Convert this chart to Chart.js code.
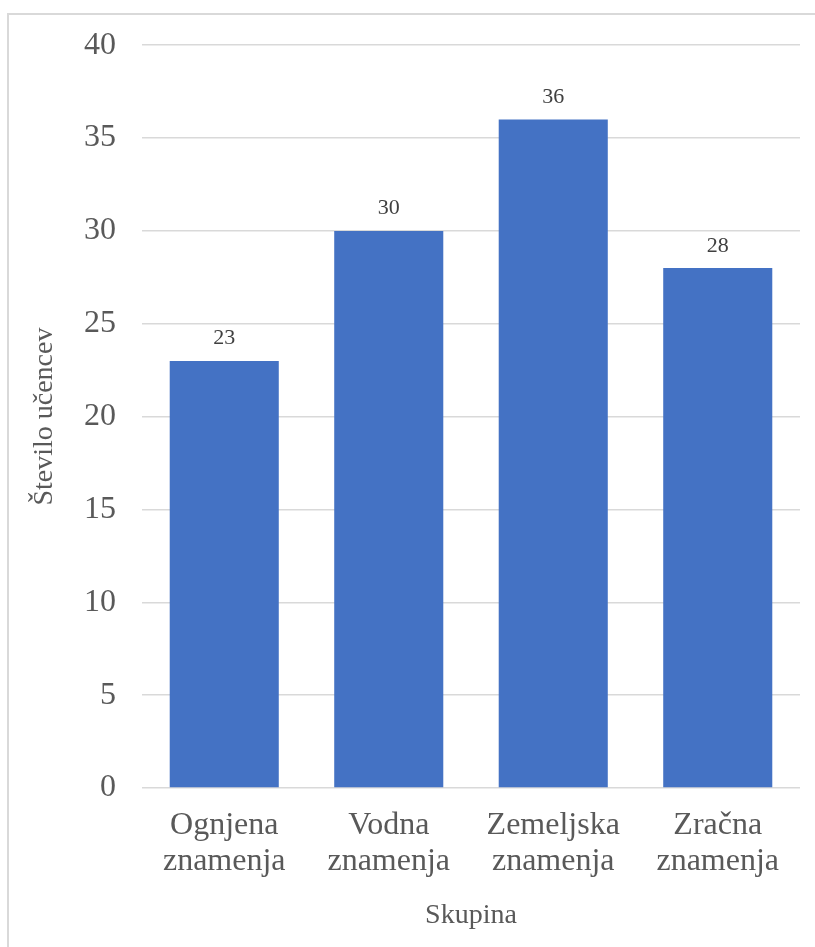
<!DOCTYPE html>
<html>
<head>
<meta charset="utf-8">
<script src="https://cdn.jsdelivr.net/npm/chart.js@4"></script>
<style>
  html, body { margin: 0; padding: 0; background: #fff; overflow: hidden; }
  #wrap { position: relative; width: 815px; height: 947px; }
  #frame { position: absolute; left: 7px; top: 13px; width: 900px; height: 1000px; border: 2px solid #d9d9d9; box-sizing: border-box; }
  canvas { position: absolute; left: 0; top: 0; }
</style>
</head>
<body>
<div id="wrap">
  <div id="frame"></div>
  <canvas id="c" width="815" height="947"></canvas>
</div>
<script>
const categories = [["Ognjena", "znamenja"], ["Vodna", "znamenja"], ["Zemeljska", "znamenja"], ["Zračna", "znamenja"]];
const values = [23, 30, 36, 28];
const yTicks = [0, 5, 10, 15, 20, 25, 30, 35, 40];
const xTitle = "Skupina";
const yTitle = "Število učencev";

const FONT = '"Liberation Serif", "Times New Roman", serif';
const TEXT = '#595959';

const dataLabels = {
  id: 'dataLabels',
  afterDatasetsDraw(chart) {
    const ctx = chart.ctx;
    const meta = chart.getDatasetMeta(0);
    ctx.save();
    ctx.font = '22px ' + FONT;
    ctx.fillStyle = '#404040';
    ctx.textAlign = 'center';
    ctx.textBaseline = 'alphabetic';
    meta.data.forEach((bar, i) => {
      ctx.fillText(String(values[i]), bar.x, bar.y - 16.5);
    });
    ctx.restore();
  }
};

new Chart(document.getElementById('c'), {
  type: 'bar',
  data: {
    labels: categories,
    datasets: [{
      data: values,
      backgroundColor: '#4472c4',
      borderWidth: 0,
      barPercentage: 0.663,
      categoryPercentage: 1.0
    }]
  },
  options: {
    responsive: false,
    animation: false,
    devicePixelRatio: 1,
    layout: { padding: { top: 45, right: 15, bottom: 0, left: 0 } },
    plugins: { legend: { display: false }, tooltip: { enabled: false } },
    scales: {
      x: {
        grid: { display: false, drawTicks: false },
        border: { display: false },
        ticks: {
          color: TEXT,
          font: { family: FONT, size: 32, lineHeight: 1.125 },
          padding: 20,
          maxRotation: 0,
          autoSkip: false
        },
        title: {
          display: true,
          text: xTitle,
          color: TEXT,
          font: { family: FONT, size: 28, lineHeight: 1.2 },
          padding: { top: 0, bottom: 15 }
        },
        afterFit(scale) { scale.height = 159; }
      },
      y: {
        min: 0,
        max: 40,
        afterBuildTicks(scale) { scale.ticks = yTicks.map(v => ({ value: v })); },
        grid: { color: '#d9d9d9', lineWidth: 1.5, drawTicks: false },
        border: { display: false },
        ticks: {
          color: TEXT,
          font: { family: FONT, size: 32 },
          padding: 26
        },
        title: {
          display: true,
          text: yTitle,
          color: TEXT,
          font: { family: FONT, size: 28, lineHeight: 1.2 },
          padding: { top: 28, bottom: 0 }
        },
        afterFit(scale) { scale.width = 142; }
      }
    }
  },
  plugins: [dataLabels]
});
</script>
</body>
</html>
